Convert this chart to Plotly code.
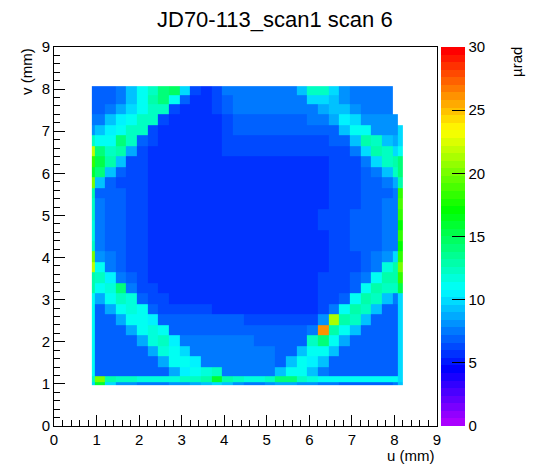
import colorsys
import plotly.graph_objects as go

FONT = "Liberation Sans, Arial, Helvetica, sans-serif"

title_text = "JD70-113_scan1 scan 6"
x_title = "u (mm)"
y_title = "v (mm)"
z_title = "µrad"

# bin edges (mm) of the coarse map
u_edges = [0.89, 0.97, 1.2, 1.45, 1.7, 1.95, 2.2, 2.45, 2.7, 2.95, 3.2, 3.45, 3.7, 3.95,
           4.2, 4.45, 4.7, 4.95, 5.2, 5.45, 5.7, 5.95, 6.2, 6.45, 6.7, 6.95, 7.2, 7.45,
           7.7, 7.97, 8.07, 8.19]
v_edges = [0.97, 1.05, 1.18, 1.4, 1.65, 1.9, 2.15, 2.4, 2.65, 2.9, 3.15, 3.4, 3.65, 3.9,
           4.15, 4.4, 4.65, 4.9, 5.15, 5.4, 5.65, 5.9, 6.15, 6.4, 6.65, 6.9, 7.15, 7.4,
           7.65, 7.85, 8.07]

# estimated values (µrad), one row per v bin, from bottom to top
r00 = [10, 16, 10, 8, 8, 7.5, 7.5, 7.5, 8, 8, 8.5, 9, 10, 9, 8, 7.5, 7.5, 8, 8.5, 8.5, 8, 8, 7.5, 7.2, 7, 7, 7, 7, 7, 7.2, 9]
r01 = [12, 20, 13, 12, 12, 11.5, 11.5, 11.5, 11.5, 12, 12, 13, 16, 13, 12, 11.5, 11.5, 12, 14, 14, 12, 11.5, 11, 11, 11, 11, 11, 11, 11, 11, 10]
r02 = [11, 6.9, 6.9, 6.9, 6.9, 6.9, 6.9, 7.1, 8.5, 10.5, 11, 11.5, 12, 7.5, 7.2, 7.2, 7.2, 7.5, 9.5, 11, 11, 9.5, 7.5, 6.9, 6.9, 6.9, 6.9, 6.9, 6.9, 7.1, 10]
r03 = [11, 6.9, 6.9, 6.9, 6.9, 6.9, 6.9, 8.5, 11, 11, 10.5, 7.5, 7.2, 7.2, 7.2, 7.2, 7.2, 7.2, 7, 9, 11, 10.5, 9, 7, 6.9, 6.9, 6.9, 6.9, 6.9, 7.1, 10]
r04 = [11, 6.9, 6.9, 6.9, 6.9, 6.9, 8.5, 11.5, 11, 10, 7.2, 7.2, 7.2, 7.2, 7.2, 7.2, 7.2, 7.2, 7, 7, 9.5, 11, 11, 9, 7, 6.9, 6.9, 6.9, 6.9, 7.1, 10]
r05 = [11, 6.9, 6.9, 6.9, 6.9, 8.5, 11.5, 12, 10.5, 7.2, 7.2, 7.2, 7.2, 7.2, 7.2, 7.2, 7, 7, 6.8, 6.8, 6.8, 12, 14, 11, 8.5, 6.9, 6.9, 6.9, 6.9, 7.1, 10]
r06 = [11, 6.9, 6.9, 6.9, 8.5, 11, 11.5, 11, 7.1, 7, 7, 7, 7, 7, 7, 7, 6.8, 6.8, 6.6, 6.6, 6.8, 7.5, 26, 13, 11, 9, 6.9, 6.9, 6.9, 7.1, 10]
r07 = [11, 6.9, 6.9, 8.5, 11, 11, 10.5, 7, 6.8, 6.8, 6.8, 6.8, 6.8, 6.8, 6.6, 6.4, 6.2, 6.1, 6, 6, 6, 6.3, 8, 21, 13, 12, 9, 6.9, 6.9, 7.1, 10]
r08 = [11, 6.9, 8.5, 11, 11.5, 11, 6.8, 6.5, 6.3, 6.2, 6.1, 6, 5.9, 5.9, 5.9, 5.9, 5.9, 5.9, 5.9, 5.9, 5.9, 5.9, 6.3, 7.5, 11, 13, 12, 9, 7, 7, 10]
r09 = [11, 8.5, 11, 12, 11.5, 6.6, 6.1, 6, 5.9, 5.8, 5.8, 5.8, 5.8, 5.8, 5.8, 5.8, 5.8, 5.8, 5.8, 5.8, 5.8, 5.9, 6, 6.1, 6.7, 11, 13, 12, 9.5, 7.2, 10]
r10 = [13, 11, 11.5, 14, 7.2, 6.3, 6, 5.8, 5.8, 5.8, 5.8, 5.8, 5.8, 5.8, 5.8, 5.8, 5.8, 5.8, 5.8, 5.8, 5.8, 5.9, 6, 6.1, 6.3, 7, 11, 13, 12.5, 12, 15]
r11 = [13, 12, 10.5, 7.2, 6.6, 6.1, 5.9, 5.8, 5.8, 5.8, 5.8, 5.8, 5.8, 5.8, 5.8, 5.8, 5.8, 5.8, 5.8, 5.8, 5.8, 5.9, 6, 6.1, 6.3, 6.7, 7.6, 11, 13, 13, 18]
r12 = [22, 11, 7.6, 6.8, 6.3, 6, 5.9, 5.8, 5.8, 5.8, 5.8, 5.8, 5.8, 5.8, 5.8, 5.8, 5.8, 5.8, 5.8, 5.8, 5.8, 5.8, 5.9, 6, 6.1, 6.3, 6.7, 7.6, 11.5, 13, 20]
r13 = [20, 8, 7.2, 6.8, 6.3, 6, 5.9, 5.8, 5.8, 5.8, 5.8, 5.8, 5.8, 5.8, 5.8, 5.8, 5.8, 5.8, 5.8, 5.8, 5.8, 5.8, 5.9, 6, 6.1, 6.3, 6.7, 7.2, 8, 10, 18]
r14 = [12, 7.2, 7, 6.8, 6.5, 6.1, 5.9, 5.8, 5.8, 5.8, 5.8, 5.8, 5.8, 5.8, 5.8, 5.8, 5.8, 5.8, 5.8, 5.8, 5.8, 5.8, 5.9, 6, 6.3, 6.6, 6.8, 7, 7.2, 7.6, 17]
r15 = [11.5, 7.2, 7, 6.8, 6.5, 6.1, 5.9, 5.8, 5.8, 5.8, 5.8, 5.8, 5.8, 5.8, 5.8, 5.8, 5.8, 5.8, 5.8, 5.8, 5.8, 5.8, 5.9, 6.1, 6.3, 6.6, 6.8, 7, 7.2, 7.6, 18]
r16 = [11.5, 7.3, 7.1, 6.8, 6.5, 6.1, 5.9, 5.8, 5.8, 5.8, 5.8, 5.8, 5.8, 5.8, 5.8, 5.8, 5.8, 5.8, 5.8, 5.8, 5.8, 5.8, 6, 6.1, 6.3, 6.6, 6.8, 7, 7.2, 7.6, 17]
r17 = [12, 7.3, 7.1, 6.8, 6.5, 6.1, 5.9, 5.8, 5.8, 5.8, 5.8, 5.8, 5.8, 5.8, 5.8, 5.8, 5.8, 5.8, 5.8, 5.8, 5.8, 5.8, 6, 6.1, 6.3, 6.6, 6.8, 7, 7.2, 7.6, 18]
r18 = [12, 7.2, 7, 6.8, 6.4, 6.1, 5.9, 5.8, 5.8, 5.8, 5.8, 5.8, 5.8, 5.8, 5.8, 5.8, 5.8, 5.8, 5.8, 5.8, 5.8, 5.8, 5.9, 6.1, 6.3, 6.5, 6.8, 7, 7.2, 7.6, 19]
r19 = [13, 7, 6.9, 6.6, 6.3, 6, 5.9, 5.8, 5.8, 5.8, 5.8, 5.8, 5.8, 5.8, 5.8, 5.8, 5.8, 5.8, 5.8, 5.8, 5.8, 5.8, 5.9, 6, 6.2, 6.5, 6.7, 6.9, 7.1, 7.5, 18]
r20 = [20, 9, 7, 6.5, 6.2, 6, 5.9, 5.8, 5.8, 5.8, 5.8, 5.8, 5.8, 5.8, 5.8, 5.8, 5.8, 5.8, 5.8, 5.8, 5.8, 5.8, 5.9, 6, 6.2, 6.4, 6.6, 6.9, 7.2, 8.5, 13]
r21 = [16, 14, 9, 6.9, 6.3, 6, 5.9, 5.8, 5.8, 5.8, 5.8, 5.8, 5.8, 5.8, 5.8, 5.8, 5.8, 5.8, 5.8, 5.8, 5.8, 5.8, 5.9, 6, 6.2, 6.4, 6.7, 7.6, 9, 12, 14]
r22 = [18, 15, 13, 9, 6.5, 6, 5.9, 5.8, 5.8, 5.8, 5.8, 5.8, 5.8, 5.8, 5.8, 5.8, 5.8, 5.8, 5.8, 5.8, 5.8, 5.8, 5.9, 6, 6.2, 6.5, 7.2, 10, 12, 13, 14]
r23 = [22, 14, 12, 13, 8.5, 6.2, 5.9, 5.8, 5.8, 5.8, 5.8, 5.8, 5.8, 6.1, 6.1, 6.1, 6.1, 6.1, 6.1, 6.1, 6.1, 6.1, 6.1, 6.1, 6.3, 7.2, 10, 13, 12.5, 10, 11]
r24 = [12, 11, 11, 14, 12, 7, 6, 5.8, 5.8, 5.8, 5.8, 5.8, 5.8, 6.1, 6.5, 6.5, 6.5, 6.5, 6.5, 6.5, 6.5, 6.5, 6.5, 6.6, 7, 9.5, 13, 12, 9, 8.5, 10]
r25 = [8, 9.5, 10.5, 11, 12, 12.5, 6.3, 5.8, 5.8, 5.8, 5.8, 5.8, 5.8, 6.3, 6.9, 6.9, 6.9, 6.9, 6.9, 6.9, 6.9, 6.9, 7, 7, 9, 11, 11, 8, 8, 8, 10]
r26 = [7.5, 7.5, 9, 10.5, 11, 12, 12, 6.2, 5.8, 5.8, 5.8, 5.8, 5.8, 6.5, 7.1, 7.1, 7.1, 7.1, 7.1, 7.1, 7.1, 7.3, 7.5, 8.5, 10.5, 10, 8, 8, 8, 8, None]
r27 = [7, 7, 7.5, 8.5, 10, 11, 12.5, 12, 6.3, 5.9, 5.8, 5.8, 6, 6.8, 7.4, 7.4, 7.4, 7.4, 7.4, 7.4, 7.4, 7.6, 8.5, 9.5, 9.5, 8, 7.8, 7.8, 7.8, None, None]
r28 = [7, 7, 7, 7.5, 9.5, 11, 13, 14, 11, 6.6, 5.9, 5.8, 6, 6.9, 7.5, 7.5, 7.5, 7.5, 7.5, 7.5, 7.5, 10, 10, 9, 8, 7.8, 7.8, 7.8, 7.8, None, None]
r29 = [7, 7, 7, 7.2, 9, 11, 12, 14, 14.5, 10, 6.3, 5.9, 6.1, 7.2, 7.6, 7.6, 7.6, 7.6, 7.6, 7.6, 9.5, 12.5, 12, 10, 8, 7.8, 7.8, 7.8, 7.8, None, None]

z_rows = [r00, r01, r02, r03, r04, r05, r06, r07, r08, r09, r10, r11, r12, r13, r14,
          r15, r16, r17, r18, r19, r20, r21, r22, r23, r24, r25, r26, r27, r28, r29]

axis_ticks = [0, 1, 2, 3, 4, 5, 6, 7, 8, 9]
cbar_ticks = [0, 5, 10, 15, 20, 25, 30]
z_min, z_max = 0, 30

assert len(z_rows) == len(v_edges) - 1
for row in z_rows:
    assert len(row) == len(u_edges) - 1, len(row)

# ROOT-like 50-step rainbow palette
n_col = 50
palette = []
for i in range(n_col):
    h = 280.0 * (1 - i / (n_col - 1)) / 360.0
    r, g, b = colorsys.hls_to_rgb(h, 0.5, 1.0)
    col = f"rgb({round(r*255)},{round(g*255)},{round(b*255)})"
    palette.append([i / n_col, col])
    palette.append([(i + 1) / n_col, col])

# the page body adds an 8 px offset; work in figure pixels
OFF = 8
W, H = 548 - OFF, 474 - OFF
L, R, T, B = 54 - OFF, 437 - OFF, 47 - OFF, 426 - OFF
pw, ph = R - L, B - T

fig = go.Figure()
fig.add_trace(go.Heatmap(
    x=u_edges, y=v_edges, z=z_rows, zmin=z_min, zmax=z_max,
    colorscale=palette, hoverinfo="skip",
    colorbar=dict(
        thickness=24, thicknessmode="pixels", len=1, lenmode="fraction",
        x=(441 - OFF - L) / pw, xanchor="left", y=0.5, yanchor="middle",
        outlinewidth=0, ticks="inside", ticklen=13, tickwidth=1, tickcolor="black",
        tickvals=cbar_ticks, tickfont=dict(size=15, family=FONT, color="black"),
        xpad=0, ypad=0,
    ),
))

axis_common = dict(
    range=[0, 9], tickvals=axis_ticks, ticks="inside", ticklen=11, tickwidth=1,
    tickcolor="black", showline=True, linecolor="black", linewidth=1, mirror=True,
    showgrid=False, zeroline=False, tickfont=dict(size=15, family=FONT, color="black"),
    minor=dict(dtick=0.2, tick0=0, ticks="inside", ticklen=6, tickcolor="black",
               tickwidth=1, showgrid=False),
)
fig.update_xaxes(**axis_common)
fig.update_yaxes(**axis_common)

fig.update_layout(
    width=W, height=H,
    margin=dict(l=L, r=W - R, t=T, b=H - B, autoexpand=False),
    paper_bgcolor="white", plot_bgcolor="white",
    font=dict(family=FONT, size=15, color="black"),
    annotations=[
        dict(text=title_text, xref="paper", yref="paper", x=(275 - OFF - L) / pw,
             y=(B - (20 - OFF)) / ph, xanchor="center", yanchor="middle", showarrow=False,
             font=dict(size=22, family=FONT, color="black")),
        dict(text=x_title, xref="paper", yref="paper", x=1, y=(B - (455 - OFF)) / ph,
             xanchor="right", yanchor="middle", showarrow=False,
             font=dict(size=15, family=FONT, color="black")),
        dict(text=y_title, xref="paper", yref="paper", x=(26 - OFF - L) / pw,
             y=(B - (72 - OFF)) / ph,
             xanchor="center", yanchor="middle", textangle=-90, showarrow=False,
             font=dict(size=15, family=FONT, color="black")),
        dict(text=z_title, xref="paper", yref="paper", x=(516 - OFF - L) / pw,
             y=(B - (62 - OFF)) / ph,
             xanchor="center", yanchor="middle", textangle=-90, showarrow=False,
             font=dict(size=15, family=FONT, color="black")),
    ],
)

fig.write_html("out.html")
